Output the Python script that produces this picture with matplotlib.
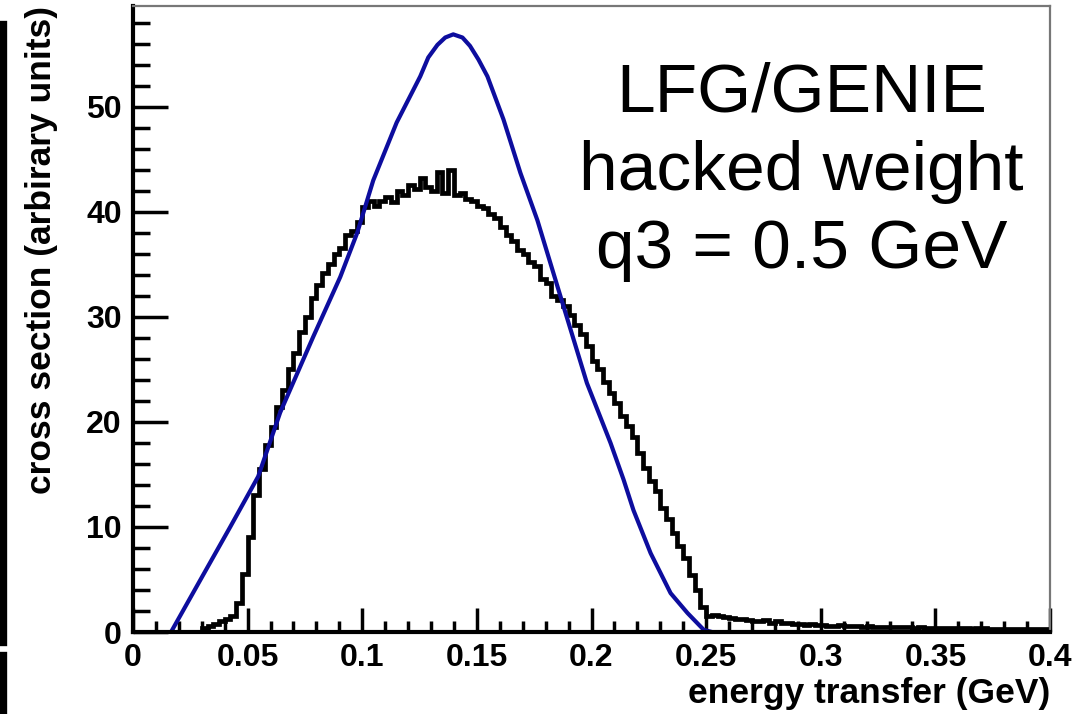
import numpy as np
import matplotlib
matplotlib.use('Agg')
import matplotlib.pyplot as plt
from matplotlib.lines import Line2D

plt.rcParams['font.family'] = ['Liberation Sans', 'DejaVu Sans']

# black histogram: 160 bins of 0.0025 GeV from 0 to 0.4
hist_lo, hist_hi, hist_nbins = 0.0, 0.4, 160
hist_vals = [
    0, 0, 0, 0, 0, 0, 0, 0, 0, 0, 0, 0,
    0.4, 0.6, 0.8, 1.0, 1.2, 1.5, 2.8, 5.5, 9.0, 13.0,
    15.5, 17.8, 19.5, 21.4, 23.0, 25.0, 26.6, 28.6, 30.0, 31.8,
    33.0, 34.2, 35.0, 36.0, 36.6, 37.8, 38.2, 39.0, 40.5, 41.0,
    40.6, 41.0, 41.4, 40.9, 42.0, 41.6, 42.6, 42.2, 43.2, 42.4,
    42.0, 43.8, 41.8, 44.0, 41.6, 41.8, 41.2, 41.0, 40.6, 40.4,
    39.8, 39.4, 38.6, 37.8, 37.2, 36.4, 36.0, 35.2, 34.8, 33.6,
    33.2, 32.0, 31.6, 31.0, 30.2, 29.2, 28.4, 27.2, 25.8, 25.0,
    23.8, 22.8, 21.8, 20.6, 19.6, 18.6, 17.0, 15.6, 14.4, 13.4,
    11.8, 10.8, 9.4, 8.2, 7.0, 5.4, 4.0, 2.4, 1.5, 1.6,
    1.5, 1.4, 1.3, 1.2, 1.2, 1.1, 1.0, 1.0, 1.1, 0.9,
    1.0, 0.9, 0.9, 0.8, 0.8, 0.7, 0.8, 0.7, 0.7, 0.6,
    0.6, 0.7, 0.6, 0.6, 0.6, 0.5, 0.6, 0.5, 0.5, 0.5,
    0.5, 0.5, 0.5, 0.5, 0.4, 0.5, 0.4, 0.4, 0.4, 0.4,
    0.4, 0.4, 0.4, 0.4, 0.3, 0.4, 0.4, 0.3, 0.3, 0.3,
    0.3, 0.3, 0.3, 0.3, 0.3, 0.3, 0.3, 0.3,
]

# blue smooth curve
blue_x = [0.0166, 0.0300, 0.0424, 0.0546, 0.0642, 0.0786, 0.0904, 0.0978,
          0.1048, 0.1150, 0.1253, 0.1288, 0.1328, 0.1362, 0.1397, 0.1437,
          0.1470, 0.1507, 0.1546, 0.1616, 0.1690, 0.1764, 0.1878, 0.1980,
          0.2083, 0.2140, 0.2183, 0.2258, 0.2345, 0.2419, 0.2490, 0.2525]
blue_y = [0.0, 5.2, 10.0, 14.8, 20.9, 28.1, 33.8, 38.0,
          43.0, 48.5, 52.9, 54.7, 55.9, 56.6, 56.9, 56.6,
          55.8, 54.5, 52.9, 48.8, 43.7, 39.2, 31.0, 23.7,
          18.0, 14.5, 11.6, 7.5, 3.7, 1.8, 0.2, 0.0]

x_ticks = [0, 0.05, 0.1, 0.15, 0.2, 0.25, 0.3, 0.35, 0.4]
x_ticklabels = ['0', '0.05', '0.1', '0.15', '0.2', '0.25', '0.3', '0.35', '0.4']
y_ticks = [0, 10, 20, 30, 40, 50]

fig = plt.figure(figsize=(10.75, 7.14), dpi=100)
ax = fig.add_axes([133 / 1075, 82 / 714, 917 / 1075, 626 / 714])

edges = np.linspace(hist_lo, hist_hi, hist_nbins + 1)
ax.stairs(hist_vals, edges, color='black', linewidth=3.4, baseline=None)
ax.plot(blue_x, blue_y, color='#0d0d9e', linewidth=3.0,
        solid_joinstyle='round', solid_capstyle='round')

ax.set_xlim(0, 0.4)
ax.set_ylim(0, 59.6)

ax.set_xticks(x_ticks)
ax.set_xticklabels(x_ticklabels)
ax.set_xticks(np.arange(0, 0.4001, 0.01), minor=True)
ax.set_yticks(y_ticks)
ax.set_yticks(np.arange(0, 59, 2), minor=True)

ax.tick_params(axis='both', which='both', direction='in', width=2.5, top=False, right=False)
ax.tick_params(axis='x', which='major', length=17, pad=8)
ax.tick_params(axis='x', which='minor', length=8)
ax.tick_params(axis='y', which='major', length=25, pad=8)
ax.tick_params(axis='y', which='minor', length=12)
for lab in ax.get_xticklabels() + ax.get_yticklabels():
    lab.set_fontweight('bold')
    lab.set_fontsize(23)

for side in ['left', 'bottom']:
    ax.spines[side].set_linewidth(3)
    ax.spines[side].set_color('black')
for side in ['top', 'right']:
    ax.spines[side].set_linewidth(1.6)
    ax.spines[side].set_color('#777777')

ax.set_xlabel('energy transfer (GeV)', loc='right', fontsize=25.5, fontweight='bold', labelpad=3)
ax.set_ylabel('cross section (arbirary units)', loc='top', fontsize=25.5, fontweight='bold', labelpad=20)

ax.text(0.729, 0.911, 'LFG/GENIE\nhacked weight\nq3 = 0.5 GeV', transform=ax.transAxes,
        ha='center', va='top', fontsize=50, linespacing=1.28)

# cropped edge artefact on the far left
fig.add_artist(Line2D([3 / 1075, 3 / 1075], [1 - 25 / 714, 1 - 642 / 714],
                      color='black', linewidth=6, transform=fig.transFigure))
fig.add_artist(Line2D([3 / 1075, 3 / 1075], [1 - 656 / 714, 0],
                      color='black', linewidth=6, transform=fig.transFigure))

fig.savefig('out.png', dpi=100)
